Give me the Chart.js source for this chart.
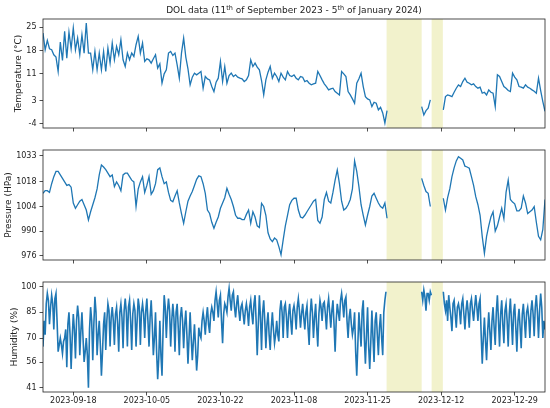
<!DOCTYPE html>
<html>
<head>
<meta charset="utf-8">
<script src="https://cdn.jsdelivr.net/npm/chart.js@4.4.0/dist/chart.umd.min.js"></script>
<style>
html, body { margin: 0; padding: 0; background: #fff; }
#wrap { position: relative; width: 550px; height: 408px; }
.panel { position: absolute; left: 0; width: 550px; }
</style>
</head>
<body>
<div id="wrap">
  <div class="panel" style="top:0;height:140px"><canvas id="temp-chart" width="550" height="140"></canvas></div>
  <div class="panel" style="top:140px;height:130px"><canvas id="press-chart" width="550" height="130"></canvas></div>
  <div class="panel" style="top:270px;height:138px"><canvas id="hum-chart" width="550" height="138"></canvas></div>
</div>
<script>
// Lecturas desde el 11/09/2023 00:00 (null = sin datos)
const stepDays = 0.5;      // temperatura y presión: cada 12 h
const humStepDays = 0.25;  // humedad: cada 6 h
const totalDays = 116;

const temperature = [
  23.2, 18.2, 21.0, 18.5, 18.2, 16.7, 16.0, 11.7, 20.5, 15.0,
  23.7, 15.7, 23.5, 18.5, 24.7, 18.2, 21.7, 16.7, 22.7, 17.2,
  26.2, 17.2, 17.2, 12.2, 17.7, 12.2, 17.2, 12.2, 17.7, 11.7,
  18.7, 14.2, 20.2, 15.2, 19.2, 16.7, 21.2, 15.2, 13.2, 17.2,
  15.2, 17.2, 16.2, 19.7, 22.2, 17.2, 20.2, 14.7, 15.5, 15.2,
  14.2, 15.5, 16.7, 12.7, 14.0, 8.2, 11.0, 12.2, 17.2, 17.7,
  16.5, 17.2, 13.7, 9.7, 17.2, 21.7, 16.0, 12.5, 7.7, 10.0,
  11.2, 10.7, 11.2, 11.7, 6.7, 10.2, 9.5, 9.2, 7.2, 5.7,
  8.5, 9.7, 14.7, 8.7, 13.2, 8.2, 10.5, 11.2, 10.2, 10.7,
  10.0, 9.7, 9.5, 8.7, 9.2, 10.5, 15.2, 13.2, 14.2, 13.0,
  12.2, 9.0, 4.7, 9.2, 11.5, 13.2, 9.7, 11.2, 10.2, 8.7,
  11.2, 10.0, 9.2, 11.7, 10.5, 10.2, 10.7, 9.7, 9.2, 10.2,
  10.0, 8.7, 9.0, 8.2, 7.7, 8.0, 8.2, 11.7, 10.5, 9.2,
  8.0, 7.2, 6.2, 6.5, 6.7, 5.7, 5.2, 4.7, 11.7, 11.0,
  10.2, 5.7, 4.7, 3.5, 2.2, 8.2, 9.5, 11.2, 7.2, 4.2,
  3.5, 3.2, 1.2, 2.5, 2.2, 0.2, 1.0, -0.7, -3.7, 0.0,
  null, null, null, null, null, null, null, null, null, null,
  null, null, null, null, null, 1.2, -1.3, 0.0, 0.7, 3.2,
  null, null, null, null, null, 0.2, 4.2, 4.7, 4.5, 4.2,
  5.5, 6.7, 7.7, 7.2, 8.7, 9.7, 8.5, 8.2, 7.7, 8.0,
  7.2, 6.7, 7.0, 5.2, 5.5, 4.7, 6.2, 5.5, 5.2, 1.2,
  10.7, 10.2, 8.7, 7.2, 6.7, 6.0, 5.7, 11.2, 10.0, 9.2,
  7.2, 7.0, 6.7, 7.7, 7.0, 6.7, 6.2, 5.8, 5.2, 9.7,
  6.0, 2.7, -0.2
];

const pressure = [
  1011.5, 1013.0, 1013.0, 1012.0, 1017.0, 1021.0, 1024.0, 1024.0, 1022.0, 1020.0,
  1018.0, 1016.0, 1016.5, 1015.0, 1006.0, 1003.0, 1005.0, 1007.0, 1008.0, 1005.0,
  1002.0, 996.3, 1001.0, 1005.0, 1009.0, 1014.0, 1022.0, 1027.7, 1026.5, 1025.0,
  1023.0, 1021.0, 1022.0, 1015.3, 1018.0, 1016.0, 1013.0, 1022.0, 1023.0, 1023.0,
  1021.0, 1019.0, 1018.0, 1004.0, 1014.0, 1018.0, 1021.0, 1012.0, 1016.0, 1021.0,
  1011.0, 1013.0, 1017.0, 1025.0, 1026.0, 1021.0, 1017.0, 1018.0, 1012.0, 1007.5,
  1006.7, 1010.0, 1013.0, 1006.0, 1000.0, 994.4, 1001.0, 1007.0, 1010.0, 1012.5,
  1016.0, 1019.5, 1021.5, 1021.0, 1017.0, 1011.5, 1002.0, 1000.0, 995.0, 991.6,
  995.0, 998.0, 1003.0, 1006.0, 1009.0, 1014.4, 1011.0, 1008.0, 1004.0, 999.0,
  997.3, 997.3, 996.5, 996.5, 999.5, 1002.0, 994.4, 1001.0, 998.0, 993.0,
  992.0, 1005.8, 1004.0, 999.0, 989.0, 985.5, 984.0, 986.0, 985.0, 981.1,
  976.5, 985.0, 993.0, 999.0, 1005.0, 1007.5, 1008.7, 1008.7, 1002.0, 998.0,
  997.5, 999.0, 1001.0, 1003.0, 1005.0, 1007.0, 1008.0, 996.0, 994.5, 998.0,
  1008.0, 1012.0, 1007.0, 1006.0, 1012.0, 1019.0, 1024.8, 1017.0, 1007.0, 1002.0,
  1003.0, 1005.0, 1008.0, 1014.0, 1030.0, 1024.0, 1015.3, 1005.0, 999.0, 993.5,
  999.0, 1004.0, 1010.0, 1011.5, 1008.7, 1006.0, 1004.0, 1003.0, 1006.0, 997.3,
  null, null, null, null, null, null, null, null, null, null,
  null, null, null, null, null, 1020.0, 1016.0, 1012.5, 1011.5, 1004.0,
  null, null, null, null, null, 1008.7, 1002.0, 1009.0, 1014.0, 1021.0,
  1026.0, 1030.0, 1032.4, 1031.5, 1030.5, 1027.0, 1026.5, 1025.8, 1021.0, 1016.0,
  1009.6, 1005.0, 999.0, 986.8, 977.3, 987.0, 993.0, 998.0, 1001.0, 990.0,
  993.0, 998.0, 1003.0, 997.0, 1012.0, 1019.0, 1008.0, 1006.5, 1005.5, 1001.5,
  1001.5, 1003.0, 1010.0, 1006.0, 1000.0, 1001.0, 1002.0, 1003.9, 995.0, 987.0,
  985.0, 991.0, 1008.0
];

// una fila por día: 00h, 06h, 12h, 18h
const humidity = [
  65, 80, 72, 90,   96, 92, 78, 88,   95, 90, 75, 93,   96, 80, 62, 66,   70, 66, 61, 68,
  70, 75, 53, 78,   85, 72, 52, 70,   84, 75, 58, 80,   89, 82, 60, 74,   85, 70, 56, 62,
  70, 60, 41, 75,   88, 80, 57, 78,   94, 85, 60, 72,   80, 66, 48, 62,   78, 85, 63, 80,
  90, 86, 65, 82,   88, 80, 66, 84,   88, 78, 62, 85,   90, 82, 64, 86,   93, 85, 65, 88,
  92, 80, 63, 84,   90, 86, 65, 80,   93, 88, 66, 85,   90, 84, 70, 86,   93, 80, 65, 82,
  92, 78, 60, 70,   85, 62, 46, 58,   80, 60, 48, 75,   95, 88, 70, 85,   93, 86, 65, 80,
  90, 82, 62, 85,   90, 76, 60, 82,   88, 80, 64, 78,   86, 72, 55, 70,   85, 70, 57, 68,
  78, 65, 51, 60,   76, 72, 70, 80,   85, 80, 72, 82,   88, 78, 73, 84,   88, 85, 80, 92,
  97, 90, 82, 92,   95, 80, 67, 84,   90, 88, 85, 94,   99, 92, 86, 95,   97, 88, 82, 90,
  95, 86, 80, 88,   90, 84, 78, 86,   90, 85, 77, 88,   92, 84, 78, 90,   95, 80, 60, 78,
  95, 82, 63, 85,   92, 80, 64, 78,   85, 72, 63, 76,   85, 75, 67, 72,   80, 72, 68, 86,
  92, 85, 70, 88,   90, 82, 70, 84,   90, 80, 72, 86,   89, 84, 75, 88,   93, 86, 76, 84,
  90, 82, 75, 85,   89, 76, 66, 84,   93, 85, 70, 82,   90, 76, 65, 84,   92, 88, 80, 90,
  91, 84, 75, 88,   93, 85, 76, 86,   92, 78, 62, 80,   90, 85, 80, 92,   96, 90, 82, 92,
  94, 80, 70, 82,   87, 78, 72, 76,   85, 62, 48, 66,   85, 75, 65, 86,   92, 70, 55, 72,
  88, 65, 52, 68,   86, 70, 56, 80,   85, 72, 60, 76,   84, 70, 60, 85,   92, 97, null, null,
  null, null, null, null,   null, null, null, null,   null, null, null, null,   null, null, null, null,
  null, null, null, null,   null, null, null, null,   null, null, null, null,   null, null, 97, 92,
  98, 94, 86, 96,   96, 92, 97, 95,   null, null, null, null,   null, null, null, null,   null, null, 97, 90,
  86, 92, 80, 95,   88, 82, 74, 90,   92, 84, 76, 88,   90, 86, 78, 90,   93, 84, 75, 86,
  92, 85, 76, 90,   93, 86, 80, 88,   95, 88, 80, 90,   93, 72, 55, 70,   82, 68, 57, 74,
  85, 74, 63, 80,   88, 76, 66, 85,   95, 80, 65, 84,   92, 78, 67, 86,   90, 80, 65, 84,
  93, 80, 66, 85,   90, 76, 62, 80,   87, 76, 64, 84,   90, 80, 70, 85,   88, 82, 70, 86,
  92, 84, 71, 88,   95, 85, 70, 86,   96, 88, 70, 80,
  75
];

// Ticks de los ejes
const dateTickDays = [7, 24, 41, 58, 75, 92, 109];
const dateTickLabels = ['2023-09-18', '2023-10-05', '2023-10-22', '2023-11-08', '2023-11-25', '2023-12-12', '2023-12-29'];
const tempTicks = [-4, 3, 11, 18, 25];
const pressTicks = [976, 990, 1004, 1018, 1033];
const humTicks = [41, 56, 70, 85, 100];

// Periodos sin datos (días desde el inicio)
const gapStarts = [79.4, 89.8];
const gapEnds = [87.5, 92.4];

const FONT = 'DejaVu Sans';
const TEXT = '#222';

const framePlugin = {
    id: 'frame',
    afterDraw(chart) {
        const { ctx, chartArea: a } = chart;
        ctx.save();
        ctx.strokeStyle = '#222';
        ctx.lineWidth = 0.8;
        ctx.strokeRect(a.left, a.top, a.right - a.left, a.bottom - a.top);
        ctx.restore();
    }
};

const gapPlugin = {
    id: 'gaps',
    beforeDatasetsDraw(chart) {
        const { ctx, chartArea: a, scales: { x } } = chart;
        ctx.save();
        ctx.fillStyle = 'rgba(191,191,0,0.2)';
        gapStarts.forEach((s, i) => {
            const x0 = x.getPixelForValue(s);
            const x1 = x.getPixelForValue(gapEnds[i]);
            ctx.fillRect(x0, a.top, x1 - x0, a.bottom - a.top);
        });
        ctx.restore();
    }
};

// Título con superíndices
const titlePlugin = {
    id: 'supTitle',
    afterDraw(chart) {
        const { ctx, chartArea: a } = chart;
        const parts = [
            ['DOL data (11', false], ['th', true], [' of September 2023 - 5', false],
            ['th', true], [' of January 2024)', false]
        ];
        const big = '9px "' + FONT + '"';
        const small = '6.5px "' + FONT + '"';
        ctx.save();
        ctx.fillStyle = TEXT;
        ctx.textBaseline = 'alphabetic';
        let w = 0;
        parts.forEach(([t, sup]) => { ctx.font = sup ? small : big; w += ctx.measureText(t).width; });
        let xPos = (a.left + a.right) / 2 - w / 2;
        const base = 13;
        parts.forEach(([t, sup]) => {
            ctx.font = sup ? small : big;
            ctx.fillText(t, xPos, sup ? base - 3.5 : base);
            xPos += ctx.measureText(t).width;
        });
        ctx.restore();
    }
};

function toPoints(values, step) {
    return values.map((v, i) => ({ x: i * step, y: v }));
}

function createPanel(id, values, cfg) {
    const ctx = document.getElementById(id).getContext('2d');
    const plugins = [gapPlugin, framePlugin];
    if (cfg.title) plugins.push(titlePlugin);
    return new Chart(ctx, {
        type: 'line',
        data: {
            datasets: [{
                data: toPoints(values, cfg.step),
                borderColor: '#1f77b4',
                borderWidth: cfg.lineWidth,
                pointRadius: 0,
                tension: 0,
                spanGaps: false
            }]
        },
        options: {
            responsive: false,
            animation: false,
            events: [],
            layout: { padding: { top: cfg.padTop, bottom: 0, left: cfg.padLeft, right: 5 } },
            plugins: { legend: { display: false }, tooltip: { enabled: false } },
            scales: {
                x: {
                    type: 'linear',
                    min: 0,
                    max: totalDays,
                    afterBuildTicks: s => { s.ticks = dateTickDays.map(v => ({ value: v })); },
                    afterFit: s => { s.height = cfg.xHeight; },
                    grid: { drawOnChartArea: false, drawTicks: true, tickLength: 3.5, color: '#222', lineWidth: 0.8 },
                    border: { display: false },
                    ticks: {
                        display: cfg.showDates,
                        autoSkip: false,
                        maxRotation: 0,
                        padding: 1,
                        color: TEXT,
                        font: { family: FONT, size: 8 },
                        callback: (v, i) => dateTickLabels[i]
                    }
                },
                y: {
                    min: cfg.yMin,
                    max: cfg.yMax,
                    afterBuildTicks: s => { s.ticks = cfg.yTicks.map(v => ({ value: v })); },
                    afterFit: s => { s.width = 43 - cfg.padLeft; },
                    grid: { drawOnChartArea: false, drawTicks: true, tickLength: 3.5, color: '#222', lineWidth: 0.8 },
                    border: { display: false },
                    ticks: {
                        padding: 3,
                        color: TEXT,
                        font: { family: FONT, size: 8 },
                        callback: v => String(v)
                    },
                    title: {
                        display: true,
                        text: cfg.label,
                        color: TEXT,
                        font: { family: FONT, size: 9, lineHeight: 1 },
                        padding: { top: 0, bottom: 0 }
                    }
                }
            }
        },
        plugins
    });
}

createPanel('temp-chart', temperature, {
    title: true, step: stepDays, lineWidth: 1.3, padTop: 19, padLeft: 14.5, xHeight: 12, showDates: false,
    yMin: -5.2, yMax: 27.4, yTicks: tempTicks, label: 'Temperature (°C)'
});
createPanel('press-chart', pressure, {
    title: false, step: stepDays, lineWidth: 1.3, padTop: 10, padLeft: 4, xHeight: 10, showDates: false,
    yMin: 973.5, yMax: 1036.2, yTicks: pressTicks, label: 'Pressure (HPa)'
});
createPanel('hum-chart', humidity, {
    title: false, step: humStepDays, lineWidth: 1.6, padTop: 12, padLeft: 10, xHeight: 16, showDates: true,
    yMin: 38.5, yMax: 102.7, yTicks: humTicks, label: 'Humidity (%)'
});
</script>
</body>
</html>
